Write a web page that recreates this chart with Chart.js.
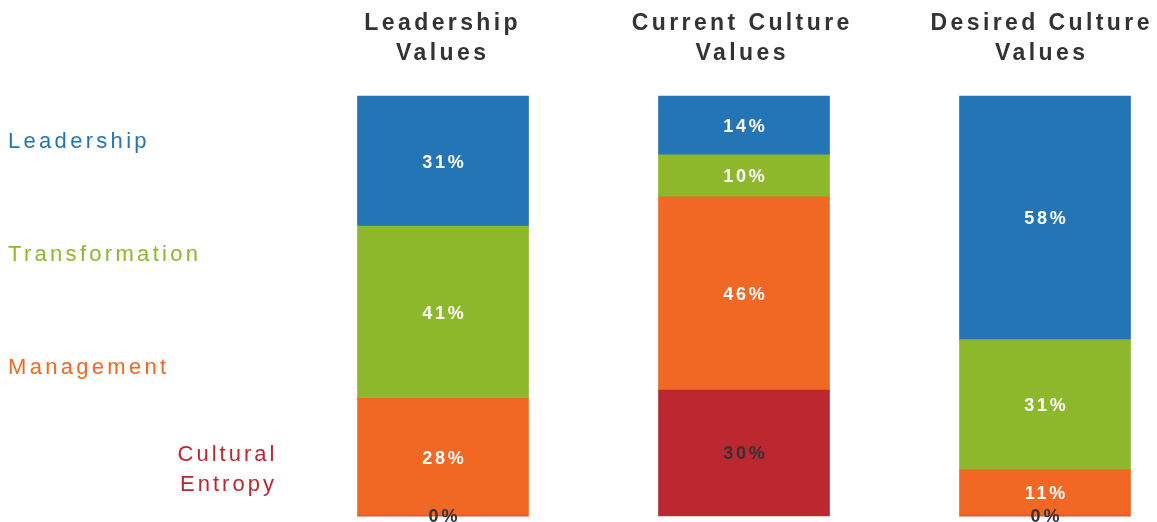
<!DOCTYPE html>
<html>
<head>
<meta charset="utf-8">
<script src="https://cdn.jsdelivr.net/npm/chart.js@4"></script>
<style>
  body { margin: 0; background: #fff; }
  #wrap { width: 1157px; height: 522px; position: relative; }
</style>
</head>
<body>
<div id="wrap"><canvas id="chart"></canvas></div>
<script>
/* Chart data. */
const categories = [["Leadership", "Values"], ["Current Culture", "Values"], ["Desired Culture", "Values"]]
const seriesNames = ["Cultural Entropy", "Management", "Transformation", "Leadership"]
const entropy = [0, 30, 0]
const management = [28, 46, 11]
const transformation = [41, 10, 31]
const leadership = [31, 14, 58]

const colors = ["rgb(188, 39, 48)", "rgb(241, 103, 36)", "rgb(141, 184, 43)", "rgb(36, 117, 182)"]
const labelColors = ["#333333", "#ffffff", "#ffffff", "#ffffff"]

/* Draw text with letter spacing. */
const spacedText = (ctx, text, x, y, spacing, align) => {
  ctx.letterSpacing = spacing + "px"
  ctx.textAlign = align
  const shift = align == "center" ? spacing / 2 : (align == "right" ? spacing : 0)
  ctx.fillText(text, x + shift, y)
  ctx.letterSpacing = "0px"
}

/* Plugin for titles, side labels and value labels. */
const textPlugin = {
  id: "textPlugin",
  afterDatasetsDraw(chart) {
    const ctx = chart.ctx
    const xScale = chart.scales.x
    ctx.save()

    /* Value labels in the middle of each segment. */
    ctx.font = "bold 18px 'Liberation Sans'"
    ctx.textBaseline = "middle"
    chart.data.datasets.forEach((ds, i) => {
      const meta = chart.getDatasetMeta(i)
      meta.data.forEach((bar, j) => {
        ctx.fillStyle = labelColors[i]
        spacedText(ctx, ds.data[j] + "%", bar.x, (bar.y + bar.base) / 2 + 1.5, 2.8, "center")
      })
    })

    /* Category titles above the bars. */
    ctx.font = "bold 23px 'Liberation Sans'"
    ctx.fillStyle = "#333333"
    ctx.textBaseline = "alphabetic"
    categories.forEach((lines, i) => {
      const x = xScale.getPixelForValue(i) - 2 - i * 1.5
      lines.forEach((line, k) => {
        spacedText(ctx, line, x, 30 + k * 30, 3.4, "center")
      })
    })

    /* Series names on the left. */
    ctx.font = "22px 'Liberation Sans'"
    ctx.textBaseline = "middle"
    const sideY = [142, 255, 368]
    ctx.fillStyle = colors[3]
    spacedText(ctx, seriesNames[3], 8, sideY[0], 3.3, "left")
    ctx.fillStyle = colors[2]
    spacedText(ctx, seriesNames[2], 8, sideY[1], 3.3, "left")
    ctx.fillStyle = colors[1]
    spacedText(ctx, seriesNames[1], 8, sideY[2], 3.3, "left")
    ctx.fillStyle = colors[0]
    spacedText(ctx, "Cultural", 226, 455, 3, "center")
    spacedText(ctx, "Entropy", 227, 485, 3, "center")

    ctx.restore()
  }
}

const seriesData = [entropy, management, transformation, leadership]

const ctx = document.getElementById("chart").getContext("2d")
const chart = new Chart(ctx, {
  type: "bar",
  data: {
    labels: categories,
    datasets: seriesNames.map((name, i) => ({
      label: name,
      data: seriesData[i],
      backgroundColor: colors[i],
      borderWidth: 0,
      barThickness: 171,
      clip: false
    }))
  },
  options: {
    responsive: true,
    maintainAspectRatio: false,
    animation: false,
    events: [],
    layout: {
      padding: { left: 443, right: 112, top: 96, bottom: 6 }
    },
    scales: {
      x: {
        stacked: true,
        display: false,
        offset: false
      },
      y: {
        stacked: true,
        display: false,
        min: 0,
        max: 100
      }
    },
    plugins: {
      legend: { display: false },
      tooltip: { enabled: false }
    }
  },
  plugins: [textPlugin]
})
</script>
</body>
</html>
